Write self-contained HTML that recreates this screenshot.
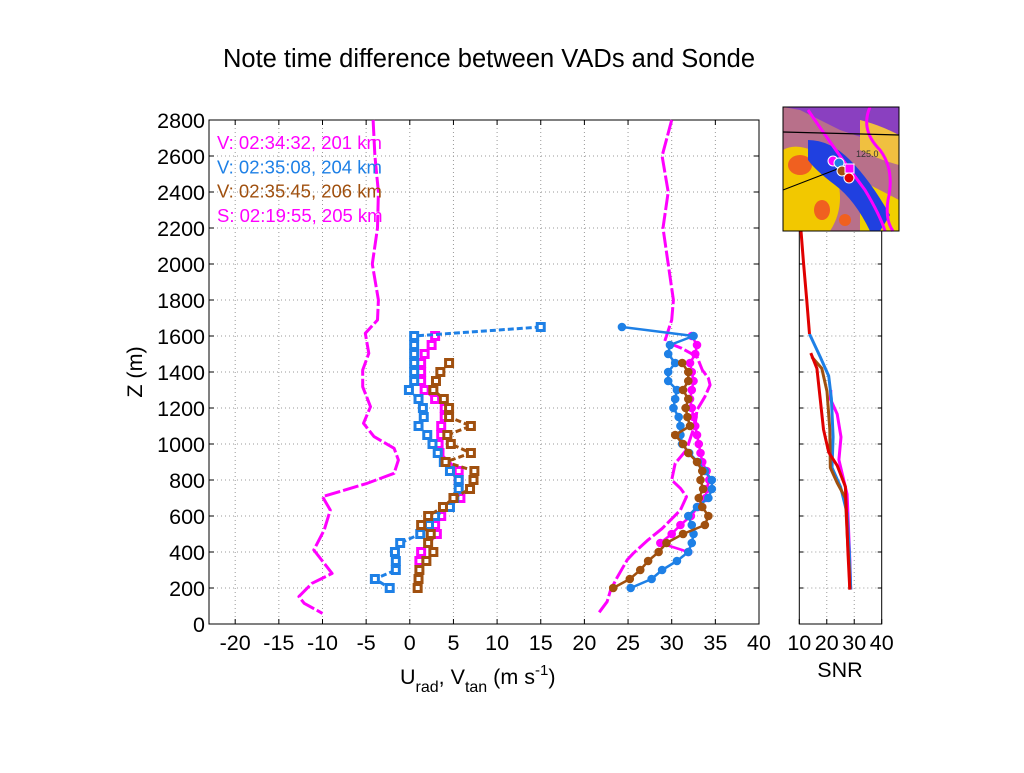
<!DOCTYPE html>
<html><head><meta charset="utf-8"><style>
body{margin:0;background:#fff;}
svg text{font-family:"Liberation Sans",Arial,sans-serif;}
</style></head><body>
<svg id="fig" width="1024" height="768" xmlns="http://www.w3.org/2000/svg">
<rect width="1024" height="768" fill="#fff"/>
<text x="489" y="67" font-size="25.5" text-anchor="middle">Note time difference between VADs and Sonde</text>
<g id="main"></g>
<g id="snr"></g>
<g id="map">
<rect x="783" y="107" width="116" height="124" fill="#b8708a"/>
<path d="M783 107 L899 107 L899 150 L840 130 L800 110 Z" fill="#8a40c0"/>
<path d="M783 150 Q800 140 830 160 Q850 200 830 231 L783 231 Z" fill="#f2c800"/>
<path d="M860 180 Q880 190 899 200 L899 231 L860 231 Z" fill="#f0d000"/>
<path d="M860 120 Q880 125 899 135 L899 165 Q880 160 860 150 Z" fill="#f0c040"/>
<ellipse cx="800" cy="165" rx="12" ry="10" fill="#f06020"/>
<ellipse cx="822" cy="210" rx="8" ry="10" fill="#f06020"/>
<ellipse cx="845" cy="220" rx="6" ry="6" fill="#f06020"/>
<path d="M808 140 Q830 140 850 160 Q870 180 890 215 L880 231 L870 231 Q855 200 835 185 Q815 170 808 160 Z" fill="#2040e0"/>
<path d="M808 110 Q835 150 865 190 Q880 215 885 231" stroke="#ff00ff" stroke-width="3" fill="none"/>
<path d="M870 107 Q860 130 880 150 Q895 170 888 200 Q885 220 893 231" stroke="#ff00ff" stroke-width="3" fill="none"/>
<path d="M783 132 L899 135" stroke="#000" stroke-width="1.2"/>
<path d="M783 190 L840 168" stroke="#000" stroke-width="1"/>
<circle cx="833" cy="161" r="5" fill="#ff00ff" stroke="#fff"/>
<circle cx="839" cy="163" r="5" fill="#1e80e6" stroke="#fff"/>
<circle cx="842" cy="171" r="5" fill="#a0500f" stroke="#fff"/>
<rect x="845" y="164" width="9" height="9" fill="#ff00ff" stroke="#fff"/>
<circle cx="849" cy="178" r="5" fill="#e00000" stroke="#fff"/>
<text x="856" y="157" font-size="9" fill="#333">125.0</text>
<rect x="783" y="107" width="116" height="124" fill="none" stroke="#000" stroke-width="1"/>
</g>
</svg>
<script>
// ---- data (m s^-1 vs altitude m) ----
const xTicks=[-20,-15,-10,-5,0,5,10,15,20,25,30,35,40];
const yTicks=[0,200,400,600,800,1000,1200,1400,1600,1800,2000,2200,2400,2600,2800];
const snrTicks=[10,20,30,40];
// Sonde U (left)
const sondeUz=[2800,2600,2400,2200,2000,1800,1689,1615,1504,1411,1318,1207,1115,1041,976,911,837,781,707,633,522,411,281,226,152,115,59];
const sondeUv=[-4.2,-4.0,-3.6,-3.7,-4.3,-3.6,-3.7,-5.1,-4.7,-5.4,-5.4,-4.5,-5.3,-4.1,-1.8,-1.3,-1.8,-4.9,-10.0,-9.1,-9.8,-11.0,-8.9,-11.2,-12.7,-12.1,-10.0];
// Sonde V (right)
const sondeVz=[2800,2600,2400,2200,2000,1800,1689,1570,1533,1485,1411,1365,1328,1263,1189,1115,967,893,800,754,707,633,530,467,393,356,254,189,124,59];
const sondeVv=[30.0,28.9,29.6,29.0,29.6,30.2,30.0,29.2,31.1,32.9,33.5,34.2,34.4,33.8,32.9,32.7,31.7,30.4,30.0,31.0,31.7,31.0,28.9,27.3,25.6,24.9,23.7,23.0,22.6,21.6];
// VAD 1 (magenta) U
const vad1Uz=[1600,1550,1500,1450,1400,1350,1300,1250,1200,1150,1100,1050,1000,950,850,800,700,650,600,550,500,400,350];
const vad1Uv=[2.9,2.5,1.7,1.3,1.3,1.3,1.7,2.9,4.0,4.0,3.6,3.6,3.3,3.4,5.6,5.6,5.8,4.3,3.6,2.9,3.1,1.3,1.1];
// VAD 2 (blue) U
const vad2Uz=[1650,1600,1550,1500,1450,1400,1350,1300,1250,1200,1150,1100,1050,1000,950,900,850,800,750,700,650,600,550,500,450,400,350,300,250,200];
const vad2Uv=[15.0,0.5,0.5,0.5,0.5,0.5,0.5,-0.1,1.0,1.5,1.6,1.0,2.0,2.6,3.2,3.9,4.6,5.6,5.6,5.1,4.6,2.9,2.2,1.2,-1.1,-1.7,-1.6,-1.6,-4.0,-2.3];
// VAD 3 (brown) U
const vad3Uz=[1450,1400,1350,1300,1250,1200,1150,1100,1050,1000,950,900,850,800,750,700,650,600,550,500,450,400,350,300,250,200];
const vad3Uv=[4.5,3.5,3.0,2.7,3.9,4.5,4.5,7.0,4.3,4.7,7.0,4.1,7.4,7.3,6.9,5.0,3.8,2.1,1.3,2.4,2.1,2.7,1.9,1.1,1.0,0.9];
// VAD 1 (magenta) V
const vad1Vz=[1600,1550,1500,1450,1400,1350,1300,1250,1200,1150,1100,1050,1000,950,900,850,800,750,700,650,600,550,500,450,400];
const vad1Vv=[32.3,32.9,32.7,32.1,32.3,32.5,32.3,32.1,32.3,32.5,32.7,32.9,33.1,33.3,33.5,34.0,34.3,34.0,33.9,33.0,32.2,31.0,30.0,28.7,31.9];
// VAD 2 (blue) V
const vad2Vz=[1650,1600,1550,1500,1450,1400,1350,1300,1250,1200,1150,1100,1050,1000,950,900,850,800,750,700,650,600,550,500,450,400,350,300,250,200];
const vad2Vv=[24.3,32.5,29.8,29.6,30.4,29.6,29.6,30.6,30.4,30.2,30.8,31.0,31.0,31.2,32.0,33.0,33.8,34.6,34.6,34.2,32.9,31.9,32.3,32.5,32.3,31.9,30.6,28.9,27.7,25.3];
// VAD 3 (brown) V
const vad3Vz=[1450,1400,1350,1300,1250,1200,1150,1100,1050,1000,950,900,850,800,750,700,650,600,550,500,450,400,350,300,250,200];
const vad3Vv=[31.2,31.9,31.9,31.3,31.9,31.6,31.8,32.1,30.4,31.3,31.9,32.9,33.5,33.3,33.6,33.1,33.5,34.2,33.8,31.3,29.4,28.5,27.3,26.4,25.2,23.3];
// SNR profiles
const snrRedZ=[2205,2014,1802,1611];
const snrRedS=[10.5,11.5,12.7,13.7];
const snrRed2Z=[1505,1420,1251,1081,954,880,763,615,403,191];
const snrRed2S=[14.2,16.4,17.6,18.8,20.7,23.8,26.8,27.2,27.7,28.4];
const snrBlueZ=[1611,1484,1378,1251,1039,869,763,615,403,191];
const snrBlueS=[13.7,17.6,20.7,21.7,22.3,21.9,25.0,27.4,28.2,28.7];
const snrBrownZ=[1484,1420,1293,1081,869,784,700,509,297,191];
const snrBrownS=[14.5,18.2,20.1,21.1,21.3,23.8,26.8,27.4,28.2,28.4];
const snrMagZ=[1300,1251,1166,1039,912,721,360,191];
const snrMagS=[21.5,21.3,23.8,25.2,24.4,27.4,28.4,28.7];

const NS="http://www.w3.org/2000/svg";
const L=209,R=759,T=120,B=624,XMIN=-23,XMAX=40,ZMAX=2800;
const SL=799.3,SR=881.7,SMIN=10,SMAX=40;
const X=v=>L+(v-XMIN)/(XMAX-XMIN)*(R-L);
const Y=z=>B-z/ZMAX*(B-T);
const SX=s=>SL+(s-SMIN)/(SMAX-SMIN)*(SR-SL);
const MAG="#ff00ff",BLU="#1e80e6",BRN="#a0500f",RED="#e00000";
function mk(tag,attrs,parent){const e=document.createElementNS(NS,tag);for(const k in attrs)e.setAttribute(k,attrs[k]);parent.appendChild(e);return e;}
const main=document.getElementById('main'),snr=document.getElementById('snr');

mk('rect',{x:L,y:T,width:R-L,height:B-T,fill:'#fff'},main);
xTicks.forEach(t=>{const x=X(t);
 if(t>XMIN&&t<XMAX){const g=mk('line',{x1:x,x2:x,y1:T,y2:B,stroke:'#999','stroke-dasharray':'1,3','stroke-width':1},main);
 
 }
 mk('line',{x1:x,x2:x,y1:B,y2:B-5,stroke:'#000'},main);mk('line',{x1:x,x2:x,y1:T,y2:T+5,stroke:'#000'},main);
 const tx=mk('text',{x:x,y:B+26,'font-size':21.5,'text-anchor':'middle'},main);tx.textContent=t;
 
 });
yTicks.forEach(t=>{const y=Y(t);
 if(t>0&&t<ZMAX){const g=mk('line',{x1:L,x2:R,y1:y,y2:y,stroke:'#999','stroke-dasharray':'1,3','stroke-width':1},main);
 
 }
 mk('line',{x1:L,x2:L+5,y1:y,y2:y,stroke:'#000'},main);mk('line',{x1:R,x2:R-5,y1:y,y2:y,stroke:'#000'},main);
 const tx=mk('text',{x:L-4,y:y+8,'font-size':21.5,'text-anchor':'end'},main);tx.textContent=t;
 
 });
mk('rect',{x:L,y:T,width:R-L,height:B-T,fill:'none',stroke:'#000','stroke-width':1},main);

function line(zs,vs,color,dash,name,fx,parent,w){
 const d=zs.map((z,i)=>(i?'L':'M')+fx(vs[i]).toFixed(1)+' '+Y(z).toFixed(1)).join(' ');
 const p=mk('path',{d:d,fill:'none',stroke:color,'stroke-width':w||2.5,'stroke-dasharray':dash||'none','stroke-linejoin':'round'},parent);
 
 }
function marks(zs,vs,color,sq,name){
 zs.forEach((z,i)=>{let m;
  if(sq){m=mk('rect',{x:X(vs[i])-3.5,y:Y(z)-3.5,width:7,height:7,fill:'#fff',stroke:color,'stroke-width':3},main);}
  else{m=mk('circle',{cx:X(vs[i]),cy:Y(z),r:3.8,fill:color,stroke:color},main);}
  
  });}

line(sondeUz,sondeUv,MAG,'16,3','sonde-u-line',X,main,3);
line(sondeVz,sondeVv,MAG,'16,3','sonde-v-line',X,main,3);
line(vad1Uz,vad1Uv,MAG,'6,3','vad1-u-line',X,main,3);marks(vad1Uz,vad1Uv,MAG,true,'vad1-u-marker');
line(vad2Uz,vad2Uv,BLU,'6,3','vad2-u-line',X,main,3);marks(vad2Uz,vad2Uv,BLU,true,'vad2-u-marker');
line(vad3Uz,vad3Uv,BRN,'6,3','vad3-u-line',X,main,3);marks(vad3Uz,vad3Uv,BRN,true,'vad3-u-marker');
line(vad1Vz,vad1Vv,MAG,null,'vad1-v-line',X,main,2.5);marks(vad1Vz,vad1Vv,MAG,false,'vad1-v-marker');
line(vad2Vz,vad2Vv,BLU,null,'vad2-v-line',X,main,2.5);marks(vad2Vz,vad2Vv,BLU,false,'vad2-v-marker');
line(vad3Vz,vad3Vv,BRN,null,'vad3-v-line',X,main,2.5);marks(vad3Vz,vad3Vv,BRN,false,'vad3-v-marker');

[['V: 02:34:32, 201 km',MAG],['V: 02:35:08, 204 km',BLU],['V: 02:35:45, 206 km',BRN],['S: 02:19:55, 205 km',MAG]].forEach((e,i)=>{
 const t=mk('text',{x:217,y:149+i*24.3,'font-size':18.5,fill:e[1]},main);t.textContent=e[0];
 
 });

const yl=mk('text',{x:142,y:372,'font-size':21.5,'text-anchor':'middle',transform:'rotate(-90 142 372)'},main);yl.textContent='Z (m)';


const xl=mk('text',{x:400,y:684,'font-size':21.5},main);
xl.innerHTML='U<tspan font-size="16" dy="8">rad</tspan><tspan dy="-8">, V</tspan><tspan font-size="16" dy="8">tan</tspan><tspan dy="-8"> (m s</tspan><tspan font-size="15" dy="-9">-1</tspan><tspan dy="9">)</tspan>';



mk('rect',{x:SL,y:T,width:SR-SL,height:B-T,fill:'#fff'},snr);
snrTicks.forEach(t=>{const x=SX(t);
 if(t>SMIN&&t<SMAX){const g=mk('line',{x1:x,x2:x,y1:T,y2:B,stroke:'#999','stroke-dasharray':'1,3'},snr);
 
 }
 mk('line',{x1:x,x2:x,y1:B,y2:B-5,stroke:'#000'},snr);
 const tx=mk('text',{x:x,y:B+26,'font-size':21.5,'text-anchor':'middle'},snr);tx.textContent=t;
 
 });
yTicks.forEach(t=>{const y=Y(t);
 if(t>0&&t<ZMAX){const g=mk('line',{x1:SL,x2:SR,y1:y,y2:y,stroke:'#999','stroke-dasharray':'1,3'},snr);
 
 }
 mk('line',{x1:SL,x2:SL+4,y1:y,y2:y,stroke:'#000'},snr);mk('line',{x1:SR,x2:SR-4,y1:y,y2:y,stroke:'#000'},snr);});
mk('rect',{x:SL,y:T,width:SR-SL,height:B-T,fill:'none',stroke:'#000'},snr);
line(snrMagZ,snrMagS,MAG,null,'snr-sonde-line',SX,snr,3);
line(snrBlueZ,snrBlueS,BLU,null,'snr-vad2-line',SX,snr,3);
line(snrBrownZ,snrBrownS,BRN,null,'snr-vad3-line',SX,snr,3);
line(snrRedZ,snrRedS,RED,null,'snr-red-upper-line',SX,snr,3);
line(snrRed2Z,snrRed2S,RED,null,'snr-red-lower-line',SX,snr,3);
const sl=mk('text',{x:840,y:677,'font-size':21.5,'text-anchor':'middle'},snr);sl.textContent='SNR';


</script>
</body></html>
